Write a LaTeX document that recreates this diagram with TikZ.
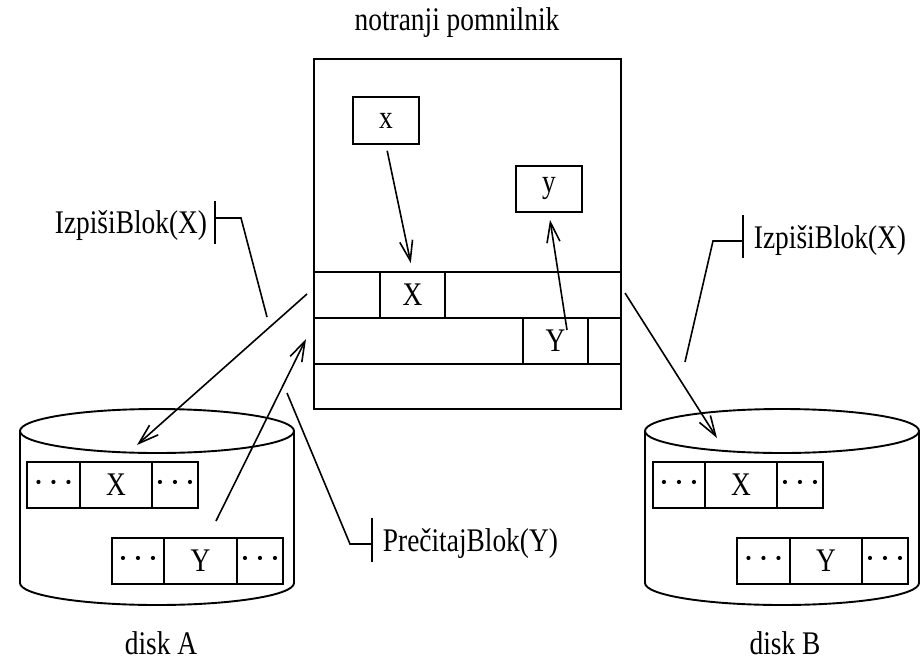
\documentclass[tikz,border=0pt]{standalone}
\usepackage{fontspec}
\setmainfont{Liberation Serif}[FakeStretch=0.83]
\usetikzlibrary{arrows.meta,calc}

\begin{document}
\begin{tikzpicture}[x=1pt,y=-1pt,line width=1.9pt,
  every node/.style={font=\fontsize{33}{36}\selectfont},
  box/.style={draw,rectangle,inner sep=0pt,anchor=north west},
  lbl/.style={inner sep=0pt},
  arr/.style={line width=1.6pt,-{Straight Barb[length=20pt,width=13pt]}},
  lead/.style={line width=1.6pt}]
\useasboundingbox (0,0) rectangle (922,665);

% main memory
\node[box,minimum width=307pt,minimum height=350pt] (mem) at (313,58) {};
\node[box,minimum width=307pt,minimum height=46pt] (row1) at (313,271) {};
\node[box,minimum width=307pt,minimum height=46pt] (row2) at (313,317) {};
\node[box,minimum width=65pt,minimum height=46pt] (Xm) at (379,271) {X};
\node[box,minimum width=65pt,minimum height=46pt] (Ym) at (522,317) {Y};
\node[box,minimum width=66pt,minimum height=47pt] (xb) at (352,96) {x};
\node[box,minimum width=66pt,minimum height=46pt] (yb) at (515,165) {y};
\node[lbl,anchor=base] (memlbl) at (457,30) {notranji pomnilnik};

% disk A
\draw (20,431) -- (20,583) arc[start angle=180,end angle=0,x radius=137,y radius=22] -- (294,431);
\draw (157,431) ellipse[x radius=137,y radius=22];
\node[box,minimum width=53pt,minimum height=46pt] (a1) at (26,461) {};
\node[box,minimum width=72pt,minimum height=46pt] (aX) at (79,461) {X};
\node[box,minimum width=46pt,minimum height=46pt] (a3) at (151,461) {};
\node[box,minimum width=52pt,minimum height=46pt] (a4) at (111,537) {};
\node[box,minimum width=73pt,minimum height=46pt] (aY) at (163,537) {Y};
\node[box,minimum width=46pt,minimum height=46pt] (a6) at (236,537) {};
\node[lbl,anchor=base] (dA) at (161,654) {disk A};

% disk B
\draw (645,431) -- (645,583) arc[start angle=180,end angle=0,x radius=137,y radius=22] -- (919,431);
\draw (782,431) ellipse[x radius=137,y radius=22];
\node[box,minimum width=52pt,minimum height=46pt] (b1) at (652,461) {};
\node[box,minimum width=72pt,minimum height=46pt] (bX) at (704,461) {X};
\node[box,minimum width=46pt,minimum height=46pt] (b3) at (776,461) {};
\node[box,minimum width=53pt,minimum height=46pt] (b4) at (736,537) {};
\node[box,minimum width=72pt,minimum height=46pt] (bY) at (789,537) {Y};
\node[box,minimum width=46pt,minimum height=46pt] (b6) at (861,537) {};
\node[lbl,anchor=base] (dB) at (785,654) {disk B};

% ellipsis dots in the neighbouring blocks
\foreach \c in {a1,a3,a4,a6,b1,b3,b4,b6}
  \foreach \k in {-1,0,1}
    \fill ($(\c.center)+(\k*15,-3)$) circle (2.1pt);

% arrow end points
\coordinate (yfrom) at (567,330);
\coordinate (memL1) at (307,294);
\coordinate (diskAin) at (137,445);
\coordinate (diskAout) at (216,521);
\coordinate (memL2) at (306,339);
\coordinate (memR) at (625,293);
\coordinate (diskBin) at (717,438);

% transfers inside memory
\draw[arr,shorten <=6pt,shorten >=8pt] (xb.south) -- (Xm.north);
\draw[arr,shorten >=7pt] (yfrom) -- (yb.south);

% transfers between memory and disks
\draw[arr] (memL1) -- (diskAin);
\draw[arr] (diskAout) -- (memL2);
\draw[arr] (memR) -- (diskBin);

% call labels
\coordinate (c1) at (267,317);
\coordinate (c2) at (241,218);
\coordinate (c3) at (215,218);
\draw[lead] (c1) -- (c2) -- (c3);
\draw[lead] (215,201) -- (215,244);
\node[lbl,anchor=base east] (w1) at (208,233) {IzpišiBlok(X)};

\coordinate (d1) at (685,362);
\coordinate (d2) at (713,241);
\coordinate (d3) at (743,241);
\draw[lead] (d1) -- (d2) -- (d3);
\draw[lead] (743,215) -- (743,258);
\node[lbl,anchor=base west] (w2) at (753,248) {IzpišiBlok(X)};

\coordinate (e1) at (287,393);
\coordinate (e2) at (350,544);
\coordinate (e3) at (372,544);
\draw[lead] (e1) -- (e2) -- (e3);
\draw[lead] (372,518) -- (372,562);
\node[lbl,anchor=base west] (r1) at (382,551) {PrečitajBlok(Y)};
\end{tikzpicture}
\end{document}
